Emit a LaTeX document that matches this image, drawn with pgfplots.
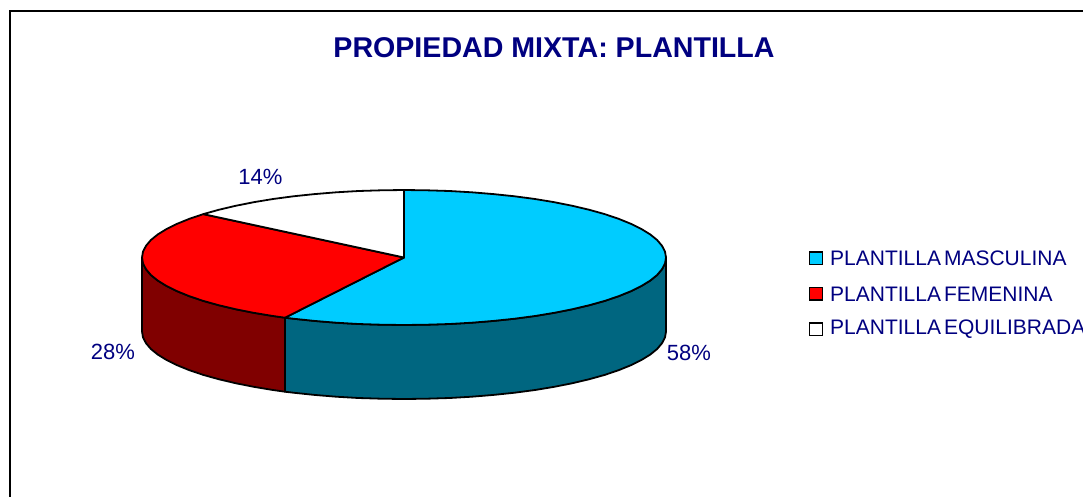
\documentclass[border=0pt]{standalone}
\usepackage{fontspec}
\setmainfont{Liberation Sans}
\usepackage{pgfplots}
\pgfplotsset{compat=1.18}
\definecolor{azul}{HTML}{00CCFF}
\definecolor{azuloscuro}{HTML}{006680}
\definecolor{rojooscuro}{HTML}{800000}
\definecolor{marino}{HTML}{000080}
\tikzset{
  sector/.style={draw=black, line width=1.8pt, line join=round, mark=none},
  etiqueta/.style={text=marino, font=\fontsize{22}{24}\selectfont, inner sep=0pt},
  leyenda/.style={text=marino, font=\fontsize{21}{24}\selectfont, inner sep=0pt, anchor=west},
}
\begin{document}
\begin{tikzpicture}
\clip[use as bounding box] (0,0) rectangle (1083pt,496pt);
\begin{axis}[
    scale only axis,
    width=1083pt,
    height=496pt,
    xmin=0, xmax=1083,
    ymin=0, ymax=496,
    y dir=reverse,
    hide axis,
    clip=false,
]
% marco
\addplot[black, line width=1.8pt, mark=none] coordinates {(1090,11) (10,11) (10,500)};

% cara lateral masculina
\addplot[sector, fill=azuloscuro] coordinates {
  (666,257.5) (665,263.4) (662,269.2) (657.1,275) (650.2,280.6) (641.4,286)
  (630.9,291.2) (618.6,296.2) (604.7,300.9) (589.3,305.2) (572.4,309.2)
  (554.3,312.8) (535,316) (514.7,318.7) (493.6,320.9) (471.8,322.7)
  (449.5,324) (426.8,324.7) (404,325) (381.2,324.7) (358.5,324) (336.2,322.7)
  (314.4,320.9) (293.3,318.7) (285,317.7)
  (285,391.7) (293.3,392.7) (314.4,394.9) (336.2,396.7) (358.5,398) (381.2,398.7)
  (404,399) (426.8,398.7) (449.5,398) (471.8,396.7) (493.6,394.9) (514.7,392.7)
  (535,390) (554.3,386.8) (572.4,383.2) (589.3,379.2) (604.7,374.9) (618.6,370.2)
  (630.9,365.2) (641.4,360) (650.2,354.6) (657.1,349) (662,343.2) (665,337.4)
  (666,331.5)
} -- cycle;

% cara lateral femenina
\addplot[sector, fill=rojooscuro] coordinates {
  (285,317.7) (273,316) (253.7,312.8) (235.6,309.2) (218.7,305.2) (203.3,300.9)
  (189.4,296.2) (177.1,291.2) (166.6,286) (157.8,280.6) (150.9,275) (146,269.2)
  (143,263.4) (142,257.5)
  (142,331.5) (143,337.4) (146,343.2) (150.9,349) (157.8,354.6) (166.6,360)
  (177.1,365.2) (189.4,370.2) (203.3,374.9) (218.7,379.2) (235.6,383.2)
  (253.7,386.8) (273,390) (285,391.7)
} -- cycle;

% tapa: 58%
\addplot[sector, fill=azul] coordinates {
  (404,257.5) (404,190) (426.8,190.3) (449.5,191) (471.8,192.3) (493.6,194.1)
  (514.7,196.3) (535,199) (554.3,202.2) (572.4,205.8) (589.3,209.8) (604.7,214.1)
  (618.6,218.8) (630.9,223.8) (641.4,229) (650.2,234.4) (657.1,240) (662,245.8)
  (665,251.6) (666,257.5) (665,263.4) (662,269.2) (657.1,275) (650.2,280.6)
  (641.4,286) (630.9,291.2) (618.6,296.2) (604.7,300.9) (589.3,305.2) (572.4,309.2)
  (554.3,312.8) (535,316) (514.7,318.7) (493.6,320.9) (471.8,322.7) (449.5,324)
  (426.8,324.7) (404,325) (381.2,324.7) (358.5,324) (336.2,322.7) (314.4,320.9)
  (293.3,318.7) (285,317.7)
} -- cycle;

% tapa: 28%
\addplot[sector, fill=red] coordinates {
  (404,257.5) (285,317.7) (273,316) (253.7,312.8) (235.6,309.2) (218.7,305.2)
  (203.3,300.9) (189.4,296.2) (177.1,291.2) (166.6,286) (157.8,280.6) (150.9,275)
  (146,269.2) (143,263.4) (142,257.5) (143,251.6) (146,245.8) (150.9,240)
  (157.8,234.4) (166.6,229) (177.1,223.8) (189.4,218.8) (203.3,214.1)
} -- cycle;

% tapa: 14%
\addplot[sector, fill=white] coordinates {
  (404,257.5) (203.3,214.1) (218.7,209.8) (235.6,205.8) (253.7,202.2) (273,199)
  (293.3,196.3) (314.4,194.1) (336.2,192.3) (358.5,191) (381.2,190.3) (404,190)
} -- cycle;

% leyenda
\addplot[draw=black, line width=1.4pt, fill=azul, mark=none] coordinates {(809.5,252) (822.5,252) (822.5,264.5) (809.5,264.5)} -- cycle;
\addplot[draw=black, line width=1.4pt, fill=red, mark=none] coordinates {(809.5,287.5) (822.5,287.5) (822.5,300) (809.5,300)} -- cycle;
\addplot[draw=black, line width=1.4pt, fill=white, mark=none] coordinates {(809.5,323) (822.5,323) (822.5,335.5) (809.5,335.5)} -- cycle;

\node[leyenda] at (axis cs:830,258.5) {PLANTILLA\hspace{3pt}MASCULINA};
\node[leyenda] at (axis cs:830,294) {PLANTILLA\hspace{3pt}FEMENINA};
\node[leyenda] at (axis cs:830,329.5) {PLANTILLA\hspace{3pt}EQUILIBRADA};

\node[etiqueta] at (axis cs:260.5,176.5) {14\%};
\node[etiqueta] at (axis cs:113,351.5) {28\%};
\node[etiqueta] at (axis cs:689,352.5) {58\%};

\node[text=marino, font=\fontsize{28.6}{32}\selectfont\bfseries, inner sep=0pt] at (axis cs:554,48) {PROPIEDAD MIXTA: PLANTILLA};
\end{axis}
\end{tikzpicture}
\end{document}
